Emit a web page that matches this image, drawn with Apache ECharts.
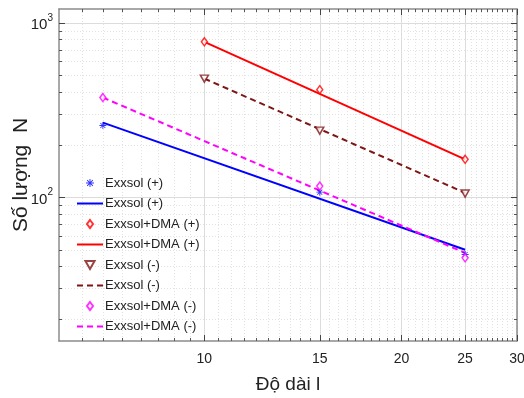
<!DOCTYPE html>
<html>
<head>
<meta charset="utf-8">
<script src="https://cdn.jsdelivr.net/npm/echarts@6/dist/echarts.min.js"></script>
<style>
  html, body { margin: 0; padding: 0; background: #fff; }
  #chart { width: 524px; height: 398px; }
</style>
</head>
<body>
<div id="chart"></div>
<script>
// measured points (x = length l, y = count N)
const exxsolPosX = [7, 15, 25];
const exxsolPosY = [258, 107, 47];
const dmaPosX = [10, 15, 25];
const dmaPosY = [778, 414, 165];
const exxsolNegX = [10, 15, 25];
const exxsolNegY = [479, 241, 105];
const dmaNegX = [7, 15, 25];
const dmaNegY = [373, 116, 45];

// fitted power-law lines (end points)
const fitExxsolPosX = [7, 25];
const fitExxsolPosY = [268, 50];
const fitDmaPosX = [10, 25];
const fitDmaPosY = [778, 165];
const fitExxsolNegX = [10, 25];
const fitExxsolNegY = [479, 106];
const fitDmaNegX = [7, 25];
const fitDmaNegY = [373, 48];

// axis ticks
const xRange = [6, 30];
const yRange = [15, 1200];
const xMajorTicks = [10, 15, 20, 25, 30];
const yMajorTicks = [100, 1000];
const yMinorTicks = [20, 30, 40, 50, 60, 70, 80, 90, 200, 300, 400, 500, 600, 700, 800, 900];

const lg = Math.log10;

// x minor ticks every 0.5
const xMinorTicks = [];
for (let v = 6.5; v < 30; v += 0.5) {
  if (!xMajorTicks.includes(v)) xMinorTicks.push(v);
}

const pts = (xs, ys) => xs.map((x, i) => [lg(x), lg(ys[i])]);

const FONT = 'Liberation Sans, Arial, sans-serif';
const AXIS_COLOR = '#8c8c8c';
const BLUE = '#0000ff', RED = '#ff0000', DARKRED = '#7f1515', MAGENTA = '#ff00ff';
const ASTERISK = 'path://M4.4,0L5.6,0L5.6,10L4.4,10Z M0,4.4L10,4.4L10,5.6L0,5.6Z M1,1.8L1.8,1L9,8.2L8.2,9Z M8.2,1L9,1.8L1.8,9L1,8.2Z';
const DIAMOND = 'path://M3,0L6,4L3,8L0,4Z';
const TRI_DOWN = 'path://M0,0L8,0L4,7Z';

const chart = echarts.init(document.getElementById('chart'), null, { renderer: 'canvas' });

const xBase = { type: 'value', min: lg(xRange[0]), max: lg(xRange[1]), gridIndex: 0 };
const yBase = { type: 'value', min: lg(yRange[0]), max: lg(yRange[1]), gridIndex: 0 };
const noLabel = { show: false };
const noSplit = { show: false };

const markerSeries = (name, xs, ys, symbol, size, color, extra) => Object.assign({
  name: name + '|m',
  type: 'scatter',
  data: pts(xs, ys),
  symbol: symbol,
  symbolSize: size,
  itemStyle: { color: '#fff', borderColor: color, borderWidth: 1.5 },
  z: 3
}, extra || {});

const lineSeries = (name, xs, ys, color, type) => ({
  name: name + '|l',
  type: 'line',
  data: pts(xs, ys),
  symbol: 'none',
  lineStyle: { color: color, width: 2, type: type },
  itemStyle: { color: color },
  z: 2
});

const legendNames = ['Exxsol (+)', 'Exxsol+DMA (+)', 'Exxsol (-)', 'Exxsol+DMA (-)'];
const legendData = [];
legendNames.forEach(n => {
  legendData.push({ name: n + '|m' });
  legendData.push({ name: n + '|l', itemStyle: { color: 'rgba(0,0,0,0)', borderWidth: 0, opacity: 0 } });
});

const option = {
  backgroundColor: '#fff',
  animation: false,
  grid: { left: 59, right: 7, top: 9, bottom: 57, outerBoundsMode: 'none', containLabel: false },
  xAxis: [
    Object.assign({}, xBase, {
      position: 'bottom',
      name: 'Độ dài l',
      nameLocation: 'middle',
      nameGap: 34,
      nameTextStyle: { fontFamily: FONT, fontSize: 19, color: '#222' },
      axisLine: { lineStyle: { color: AXIS_COLOR, width: 1.5 } },
      axisTick: { inside: true, length: 6, customValues: xMajorTicks.map(lg), lineStyle: { color: '#444' } },
      axisLabel: {
        customValues: xMajorTicks.map(lg),
        formatter: v => String(Math.round(Math.pow(10, v))),
        fontFamily: FONT, fontSize: 14, color: '#222', margin: 11
      },
      splitLine: { show: true, lineStyle: { color: '#dcdcdc', width: 1 } }
    }),
    Object.assign({}, xBase, {
      position: 'bottom',
      axisLine: { show: false },
      axisTick: { inside: true, length: 3, customValues: xMinorTicks.map(lg), lineStyle: { color: '#555' } },
      axisLabel: noLabel,
      splitLine: { show: true, lineStyle: { color: '#e2e2e2', width: 1, type: [1, 2] } }
    }),
    Object.assign({}, xBase, {
      position: 'top',
      axisLine: { lineStyle: { color: AXIS_COLOR, width: 1.5 } },
      axisTick: { inside: true, length: 6, customValues: xMajorTicks.map(lg), lineStyle: { color: '#444' } },
      axisLabel: noLabel,
      splitLine: noSplit
    }),
    Object.assign({}, xBase, {
      position: 'top',
      axisLine: { show: false },
      axisTick: { inside: true, length: 3, customValues: xMinorTicks.map(lg), lineStyle: { color: '#555' } },
      axisLabel: noLabel,
      splitLine: noSplit
    })
  ],
  yAxis: [
    Object.assign({}, yBase, {
      position: 'left',
      name: 'Số lượng  N',
      nameLocation: 'middle',
      nameGap: 27,
      nameMoveOverlap: false,
      nameTextStyle: { fontFamily: FONT, fontSize: 21, color: '#222' },
      axisLine: { lineStyle: { color: AXIS_COLOR, width: 1.5 } },
      axisTick: { inside: true, length: 6, customValues: yMajorTicks.map(lg), lineStyle: { color: '#444' } },
      axisLabel: {
        customValues: yMajorTicks.map(lg),
        formatter: v => '{b|10}{s|' + Math.round(v) + '}',
        margin: 6,
        rich: {
          b: { fontFamily: FONT, fontSize: 15, color: '#222', lineHeight: 20, verticalAlign: 'bottom' },
          s: { fontFamily: FONT, fontSize: 10, color: '#222', lineHeight: 20, verticalAlign: 'top' }
        }
      },
      splitLine: { show: true, lineStyle: { color: '#dcdcdc', width: 1 } }
    }),
    Object.assign({}, yBase, {
      position: 'left',
      axisLine: { show: false },
      axisTick: { inside: true, length: 3, customValues: yMinorTicks.map(lg), lineStyle: { color: '#555' } },
      axisLabel: noLabel,
      splitLine: { show: true, lineStyle: { color: '#e2e2e2', width: 1, type: [1, 2] } }
    }),
    Object.assign({}, yBase, {
      position: 'right',
      axisLine: { lineStyle: { color: AXIS_COLOR, width: 1.5 } },
      axisTick: { inside: true, length: 6, customValues: yMajorTicks.map(lg), lineStyle: { color: '#444' } },
      axisLabel: noLabel,
      splitLine: noSplit
    }),
    Object.assign({}, yBase, {
      position: 'right',
      axisLine: { show: false },
      axisTick: { inside: true, length: 3, customValues: yMinorTicks.map(lg), lineStyle: { color: '#555' } },
      axisLabel: noLabel,
      splitLine: noSplit
    })
  ],
  legend: {
    orient: 'vertical',
    left: 76,
    top: 176,
    padding: 0,
    itemWidth: 26,
    itemHeight: 8,
    itemGap: 6.5,
    symbolKeepAspect: true,
    inactiveColor: '#ccc',
    formatter: name => name.split('|')[0],
    textStyle: { fontFamily: FONT, fontSize: 13, color: '#222', lineHeight: 14, padding: [0, 0, 0, -3] },
    data: legendData
  },
  series: [
    markerSeries('Exxsol (+)', exxsolPosX, exxsolPosY, ASTERISK, 7, BLUE,
      { itemStyle: { color: BLUE, borderWidth: 0 } }),
    lineSeries('Exxsol (+)', fitExxsolPosX, fitExxsolPosY, BLUE, 'solid'),
    markerSeries('Exxsol+DMA (+)', dmaPosX, dmaPosY, DIAMOND, [6, 8], RED),
    lineSeries('Exxsol+DMA (+)', fitDmaPosX, fitDmaPosY, RED, 'solid'),
    markerSeries('Exxsol (-)', exxsolNegX, exxsolNegY, TRI_DOWN, [8, 7], DARKRED),
    lineSeries('Exxsol (-)', fitExxsolNegX, fitExxsolNegY, DARKRED, [6, 4]),
    markerSeries('Exxsol+DMA (-)', dmaNegX, dmaNegY, DIAMOND, [6, 8], MAGENTA),
    lineSeries('Exxsol+DMA (-)', fitDmaNegX, fitDmaNegY, MAGENTA, [6, 4])
  ]
};

chart.setOption(option);
</script>
</body>
</html>
